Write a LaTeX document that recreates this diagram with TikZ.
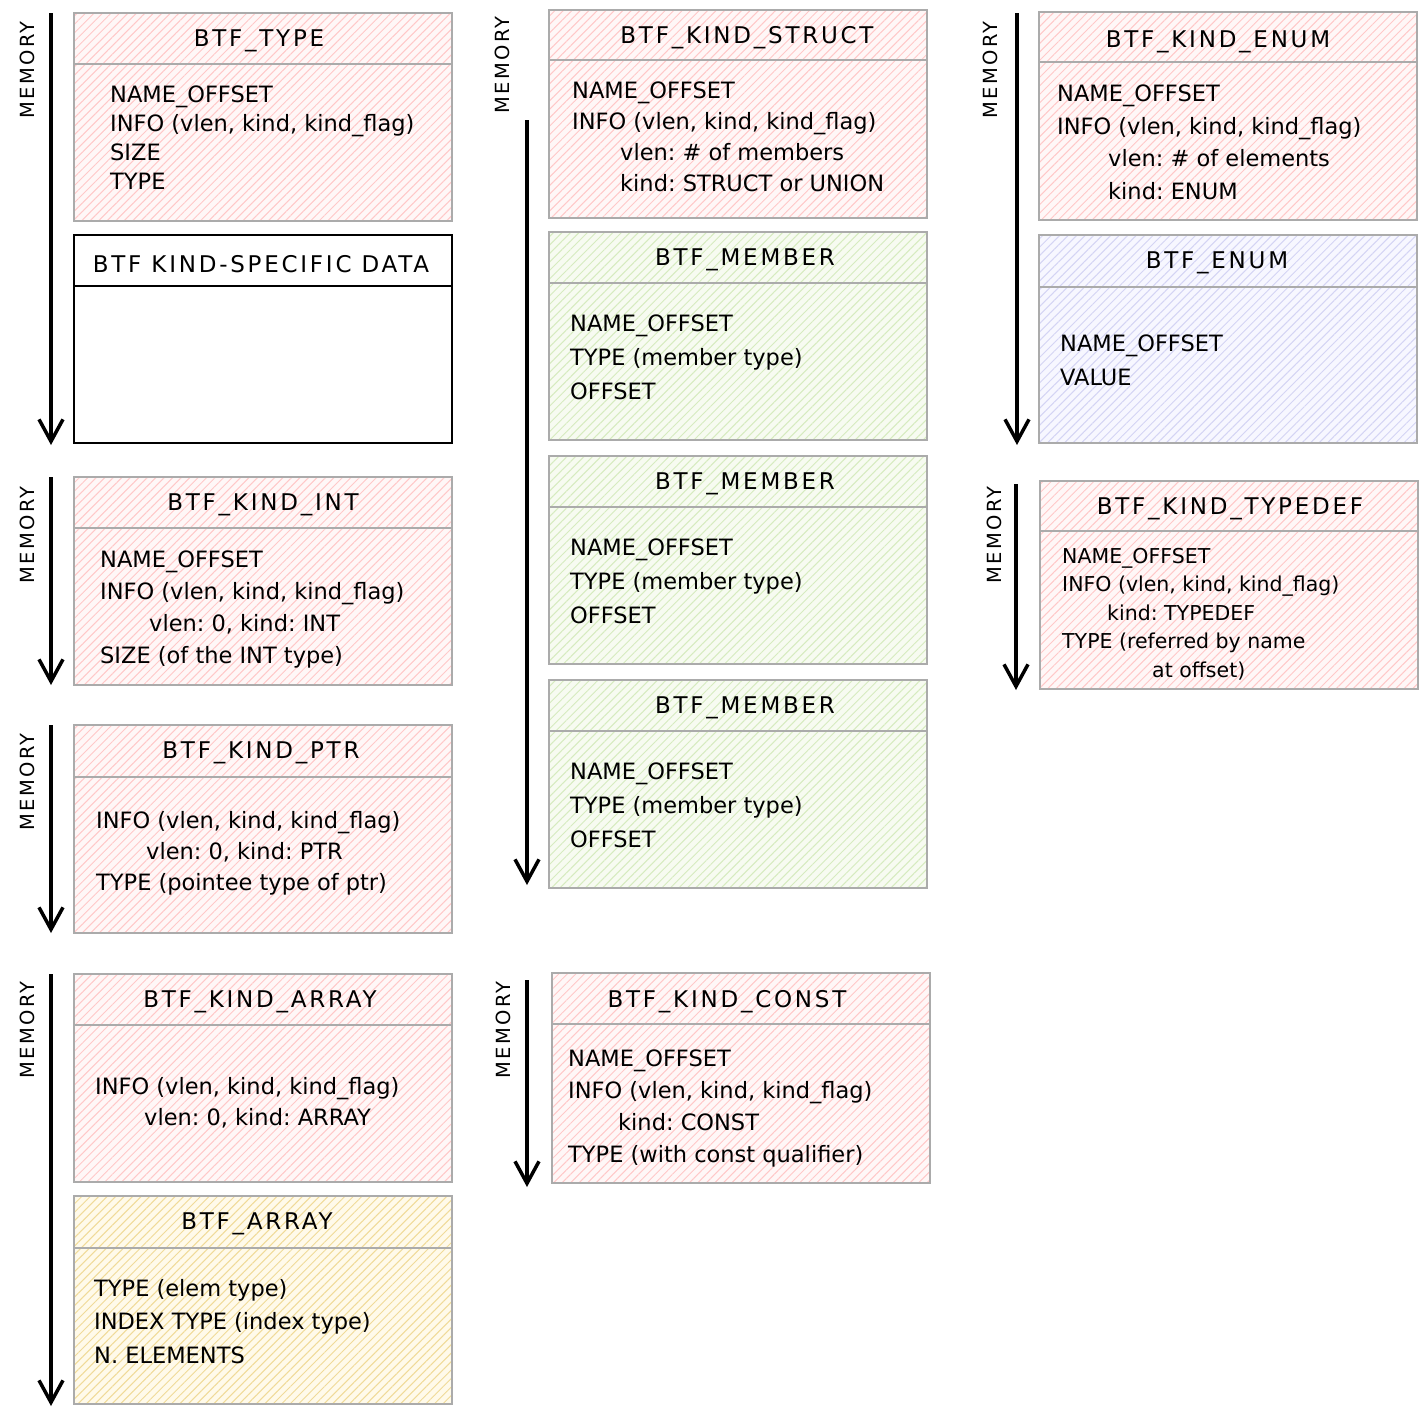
\documentclass[tikz,border=0pt]{standalone}
\usepackage{fontspec}
\setmainfont{DejaVu Sans}
\newfontfamily\titlefont[LetterSpace=12]{DejaVu Sans}
\frenchspacing
\usetikzlibrary{arrows.meta,patterns.meta}

\definecolor{boxgray}{HTML}{ABABAB}
\definecolor{pinkbg}{HTML}{FFF7F7}
\definecolor{pinkline}{HTML}{FFC8C8}
\definecolor{greenbg}{HTML}{F7FBF1}
\definecolor{greenline}{HTML}{D6EBBF}
\definecolor{lavbg}{HTML}{F7F7FF}
\definecolor{lavline}{HTML}{D4D4F4}
\definecolor{yellowbg}{HTML}{FFFAEA}
\definecolor{yellowline}{HTML}{F0DA98}

\tikzset{
  btfbox/.style={draw=boxgray, line width=1.3pt, minimum width=378pt,
    minimum height=208pt, inner sep=0pt},
  hatched/.style 2 args={btfbox, preaction={fill=#1},
    pattern={Lines[angle=45,distance=6pt,line width=1pt]}, pattern color=#2},
  pinkbox/.style={hatched={pinkbg}{pinkline}},
  greenbox/.style={hatched={greenbg}{greenline}},
  lavbox/.style={hatched={lavbg}{lavline}},
  yellowbox/.style={hatched={yellowbg}{yellowline}},
  divider/.style={draw=boxgray, line width=1.3pt},
  title/.style={inner sep=0pt, font=\titlefont\fontsize{23}{26}\selectfont},
  body/.style={anchor=north west, inner sep=0pt, align=left,
    font=\fontsize{22.5}{#1}\selectfont},
  memlabel/.style={rotate=90, inner sep=0pt, font=\titlefont\fontsize{19.5}{22}\selectfont},
  memarrow/.style={line width=3.5pt, -{Straight Barb[length=22pt,width=24pt,line width=3.5pt]}},
}
\newcommand{\ind}[1]{\hspace*{#1pt}}

\begin{document}
\begin{tikzpicture}[x=1pt, y=-1pt]
  \useasboundingbox (0,0) rectangle (1428,1414);

  % first column
  \node[pinkbox] (type) at (263,117) {};
  \draw[divider] (type.west |- 0,64) -- (type.east |- 0,64);
  \node[title] (typet) at (259,41) {BTF\_TYPE};
  \node[body=29] (typeb) at (110,86) {NAME\_OFFSET\\INFO (vlen, kind, kind\_flag)\\SIZE\\TYPE};

  \node[btfbox, draw=black, line width=1.5pt, fill=white] (data) at (263,339) {};
  \draw[line width=1.5pt] (data.west |- 0,286) -- (data.east |- 0,286);
  \node[title] (datat) at (261,264) {BTF KIND-SPECIFIC DATA};

  \node[pinkbox] (int) at (263,581) {};
  \draw[divider] (int.west |- 0,528) -- (int.east |- 0,528);
  \node[title] (intt) at (263,505) {BTF\_KIND\_INT};
  \node[body=31.7] (intb) at (100,551) {NAME\_OFFSET\\INFO (vlen, kind, kind\_flag)\\
    \ind{49}vlen: 0, kind: INT\\SIZE (of the INT type)};

  \node[pinkbox] (ptr) at (263,829) {};
  \draw[divider] (ptr.west |- 0,777) -- (ptr.east |- 0,777);
  \node[title] (ptrt) at (261,753) {BTF\_KIND\_PTR};
  \node[body=31] (ptrb) at (96,811) {INFO (vlen, kind, kind\_flag)\\
    \ind{50}vlen: 0, kind: PTR\\TYPE (pointee type of ptr)};

  \node[pinkbox] (karray) at (263,1078) {};
  \draw[divider] (karray.west |- 0,1025) -- (karray.east |- 0,1025);
  \node[title] (karrayt) at (260,1002) {BTF\_KIND\_ARRAY};
  \node[body=31] (karrayb) at (95,1077)
    {INFO (vlen, kind, kind\_flag)\\\ind{49}vlen: 0, kind: ARRAY};

  \node[yellowbox] (array) at (263,1300) {};
  \draw[divider] (array.west |- 0,1248) -- (array.east |- 0,1248);
  \node[title] (arrayt) at (257,1224) {BTF\_ARRAY};
  \node[body=33.5] (arrayb) at (94,1279) {TYPE (elem type)\\INDEX TYPE (index type)\\N. ELEMENTS};

  % second column
  \node[pinkbox] (struct) at (738,114) {};
  \draw[divider] (struct.west |- 0,60) -- (struct.east |- 0,60);
  \node[title] (structt) at (747,38) {BTF\_KIND\_STRUCT};
  \node[body=31] (structb) at (572,82) {NAME\_OFFSET\\INFO (vlen, kind, kind\_flag)\\
    \ind{48}vlen: \# of members\\\ind{48}kind: STRUCT or UNION};

  \foreach \m/\y in {memA/336, memB/560, memC/784} {
    \node[greenbox] (\m) at (738,\y) {};
    \draw[divider] (\m.west |- 0,\y-53) -- (\m.east |- 0,\y-53);
    \node[title] (\m t) at (745,\y-76) {BTF\_MEMBER};
    \node[body=34] (\m b) at (570,\y-21) {NAME\_OFFSET\\TYPE (member type)\\OFFSET};
  }

  \node[pinkbox, minimum height=210pt] (const) at (741,1078) {};
  \draw[divider] (const.west |- 0,1024) -- (const.east |- 0,1024);
  \node[title] (constt) at (727,1002) {BTF\_KIND\_CONST};
  \node[body=32] (constb) at (568,1050) {NAME\_OFFSET\\INFO (vlen, kind, kind\_flag)\\
    \ind{50}kind: CONST\\TYPE (with const qualifier)};

  % third column
  \node[pinkbox] (enum) at (1228,116) {};
  \draw[divider] (enum.west |- 0,62) -- (enum.east |- 0,62);
  \node[title] (enumt) at (1218,42) {BTF\_KIND\_ENUM};
  \node[body=32.5] (enumb) at (1057,85) {NAME\_OFFSET\\INFO (vlen, kind, kind\_flag)\\
    \ind{51}vlen: \# of elements\\\ind{51}kind: ENUM};

  \node[lavbox] (enumval) at (1228,339) {};
  \draw[divider] (enumval.west |- 0,287) -- (enumval.east |- 0,287);
  \node[title] (enumvalt) at (1217,263) {BTF\_ENUM};
  \node[body=34] (enumvalb) at (1060,335) {NAME\_OFFSET\\VALUE};

  \node[pinkbox] (typedef) at (1229,585) {};
  \draw[divider] (typedef.west |- 0,531) -- (typedef.east |- 0,531);
  \node[title] (typedeft) at (1230,509) {BTF\_KIND\_TYPEDEF};
  \node[body=28.5, font=\fontsize{20.5}{28.5}\selectfont] (typedefb) at (1062,548)
    {NAME\_OFFSET\\INFO (vlen, kind, kind\_flag)\\\ind{45}kind: TYPEDEF\\
    TYPE (referred by name\\\ind{90}at offset)};

  % memory arrows
  \foreach \n/\x/\ya/\yb/\lx/\ly in {m1/51/13/445/27/70, m2/51/477/685/27/535,
      m3/51/725/933/27/782, m4/51/974/1406/27/1030, m5/527/120/885/502/65,
      m6/527/980/1187/503/1030, m7/1017/13/445/990/70, m8/1016/484/690/994/535} {
    \coordinate (\n s) at (\x,\ya);
    \coordinate (\n e) at (\x,\yb);
    \draw[memarrow] (\n s) -- (\n e);
    \node[memlabel] (\n l) at (\lx,\ly) {MEMORY};
  }
\end{tikzpicture}
\end{document}
